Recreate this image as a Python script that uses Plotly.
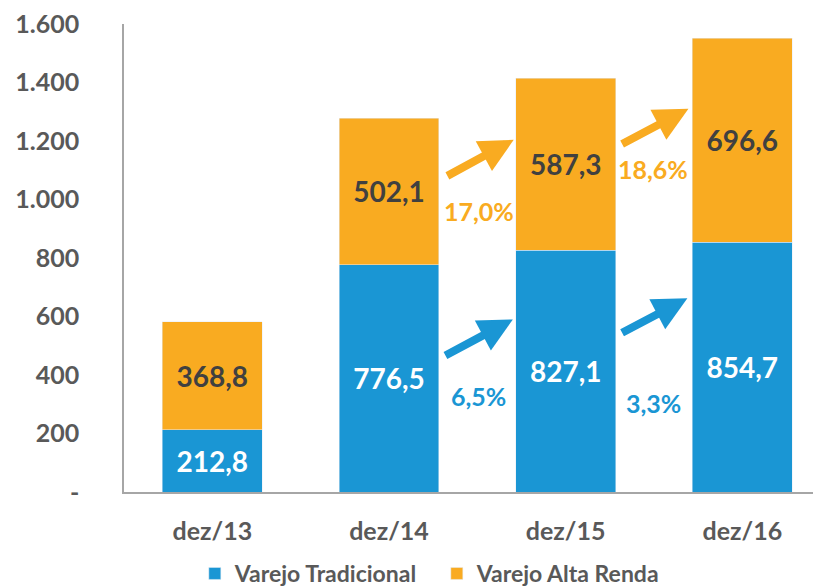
import plotly.graph_objects as go

categories = ["dez/13", "dez/14", "dez/15", "dez/16"]
tradicional = [212.8, 776.5, 827.1, 854.7]
alta_renda = [368.8, 502.1, 587.3, 696.6]
tick_vals = [0, 200, 400, 600, 800, 1000, 1200, 1400, 1600]
tick_text = ["-", "200", "400", "600", "800", "1.000", "1.200", "1.400", "1.600"]

# growth arrows: (x_tail, y_tail, x_tip, y_tip), label, label pos
orange_arrows = [(1.322, 1078, 1.706, 1204), (2.311, 1187, 2.695, 1310)]
orange_labels = ["17,0%", "18,6%"]
orange_label_pos = [(1.508, 959), (2.497, 1105)]
blue_arrows = [(1.311, 464, 1.701, 590), (2.311, 542, 2.689, 662)]
blue_labels = ["6,5%", "3,3%"]
blue_label_pos = [(1.508, 328), (2.497, 304)]

BLUE = "#1A96D4"
ORANGE = "#F9AB21"
GREY = "#595959"
FONT = "Lato, Carlito, Calibri, sans-serif"

def fmt(v):
    return f"{v:.1f}".replace(".", ",")

xs = list(range(len(categories)))

fig = go.Figure()
fig.add_trace(go.Bar(
    x=xs, y=tradicional, name="Varejo Tradicional", marker_color=BLUE,
    width=0.565, text=[fmt(v) for v in tradicional], textposition="inside",
    insidetextanchor="middle", constraintext="none",
    textfont=dict(color="white", size=28, family=FONT, weight="bold"),
))
fig.add_trace(go.Bar(
    x=xs, y=alta_renda, name="Varejo Alta Renda", marker_color=ORANGE,
    width=0.565, text=[fmt(v) for v in alta_renda], textposition="inside",
    insidetextanchor="middle", constraintext="none",
    textfont=dict(color="#404040", size=28, family=FONT, weight="bold"),
))

annotations = []
for arrows, color in ((orange_arrows, ORANGE), (blue_arrows, BLUE)):
    for (x0, y0, x1, y1) in arrows:
        annotations.append(dict(
            x=x1, y=y1, ax=x0, ay=y0, xref="x", yref="y", axref="x", ayref="y",
            showarrow=True, arrowhead=2, arrowsize=0.85, arrowwidth=8,
            arrowcolor=color, text="", standoff=0,
        ))
for labels, poss, color in ((orange_labels, orange_label_pos, ORANGE), (blue_labels, blue_label_pos, BLUE)):
    for t, (x, y) in zip(labels, poss):
        annotations.append(dict(
            x=x, y=y, xref="x", yref="y", text=t, showarrow=False,
            font=dict(color=color, size=25, family=FONT, weight="bold"),
        ))

fig.update_layout(
    barmode="stack",
    width=823, height=587,
    margin=dict(l=116, r=18, t=16, b=103),
    plot_bgcolor="white", paper_bgcolor="white",
    font=dict(family=FONT, color=GREY),
    annotations=annotations,
    showlegend=True,
    legend=dict(
        orientation="h", xref="container", yref="container",
        x=0.227, xanchor="left", y=-0.027, yanchor="bottom",
        font=dict(size=23, color=GREY, family=FONT, weight="bold"),
        traceorder="normal", itemwidth=30,
        entrywidth=197, entrywidthmode="pixels",
    ),
    xaxis=dict(
        tickvals=xs, ticktext=categories, range=[-0.5, 3.4],
        showline=True, linecolor="#A6A6A6", linewidth=1.5,
        showgrid=False, zeroline=False, ticks="", automargin=False,
        tickfont=dict(size=25, color=GREY, family=FONT, weight="bold"),
        ticklabelstandoff=16,
    ),
    yaxis=dict(
        range=[0, 1600], tickvals=tick_vals, ticktext=tick_text,
        showline=True, linecolor="#A6A6A6", linewidth=1.5,
        showgrid=False, zeroline=False, ticks="", automargin=False,
        tickfont=dict(size=25, color=GREY, family=FONT, weight="bold"),
        ticklabelstandoff=38, ticklabeloverflow="allow",
    ),
)

fig.write_html("out.html")
